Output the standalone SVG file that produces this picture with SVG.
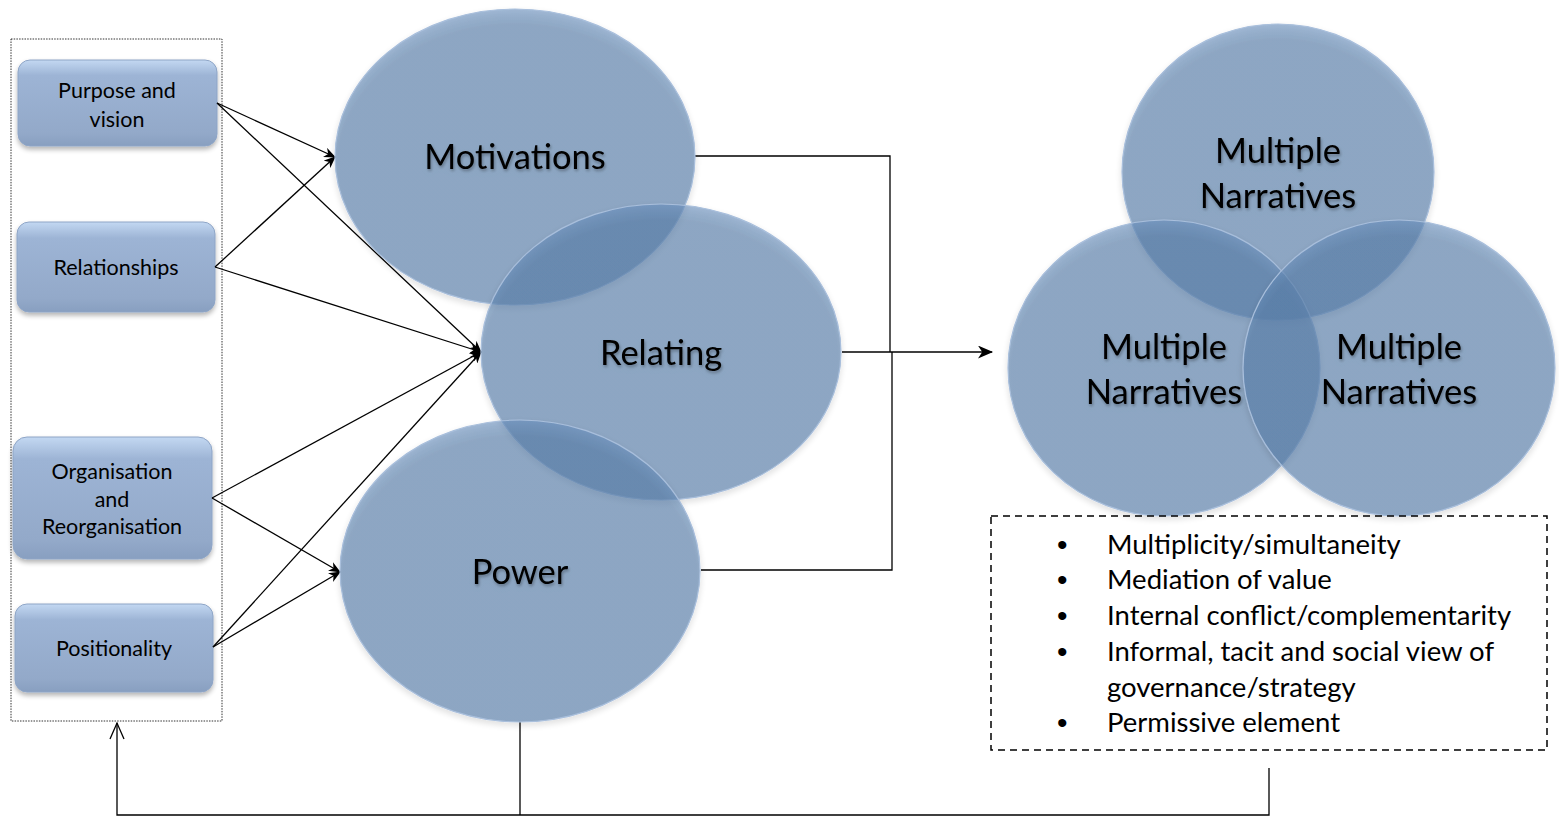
<svg xmlns="http://www.w3.org/2000/svg" width="1559" height="817" viewBox="0 0 1559 817">
  <style>
    .box { fill: url(#boxGrad); stroke: #8ea5c6; stroke-width: 1; filter: url(#boxShadow); }
    .ring { fill: url(#ringGrad); stroke: #a9bfdc; stroke-width: 1.2; }
    .lbl { font-family: Lato, "Open Sans", "Liberation Sans", sans-serif; fill: #000; text-anchor: middle; }
    .small { font-size: 21.5px; }
    .big { font-size: 34.5px; filter: url(#textGlow); }
    .bul { font-family: Lato, "Open Sans", "Liberation Sans", sans-serif; font-size: 27.5px; fill: #000; }
    .dot { font-family: "Liberation Sans", sans-serif; font-size: 30px; fill: #000; }
    .wire { fill: none; stroke: #000; stroke-width: 1.3; }
  </style>
  <defs>
    <linearGradient id="boxGrad" x1="0" y1="0" x2="0" y2="1">
      <stop offset="0" stop-color="#c3d8f2"/>
      <stop offset="0.18" stop-color="#9db4d5"/>
      <stop offset="0.85" stop-color="#93a9c9"/>
      <stop offset="1" stop-color="#889fc0"/>
    </linearGradient>
    <radialGradient id="ringGrad" cx="0.5" cy="0.55" r="0.55">
      <stop offset="0" stop-color="#5a80ab" stop-opacity="0.64"/>
      <stop offset="0.9" stop-color="#5a80ab" stop-opacity="0.64"/>
      <stop offset="1" stop-color="#6a90bd" stop-opacity="0.62"/>
    </radialGradient>
    <filter id="boxShadow" x="-10%" y="-10%" width="120%" height="130%">
      <feGaussianBlur in="SourceAlpha" stdDeviation="2.5"/>
      <feOffset dx="0" dy="3" result="b"/>
      <feComponentTransfer><feFuncA type="linear" slope="0.3"/></feComponentTransfer>
      <feMerge><feMergeNode/><feMergeNode in="SourceGraphic"/></feMerge>
    </filter>
    <filter id="ringShadow" x="-10%" y="-10%" width="120%" height="125%">
      <feGaussianBlur in="SourceAlpha" stdDeviation="3"/>
      <feOffset dx="0" dy="3"/>
      <feComponentTransfer><feFuncA type="linear" slope="0.18"/></feComponentTransfer>
      <feMerge><feMergeNode/><feMergeNode in="SourceGraphic"/></feMerge>
    </filter>
    <filter id="textGlow" x="-10%" y="-20%" width="120%" height="150%">
      <feGaussianBlur in="SourceAlpha" stdDeviation="1.5"/>
      <feOffset dx="1" dy="2"/>
      <feComponentTransfer><feFuncA type="linear" slope="0.3"/></feComponentTransfer>
      <feMerge><feMergeNode/><feMergeNode in="SourceGraphic"/></feMerge>
    </filter>
    <marker id="head" viewBox="0 0 12 10" refX="11" refY="5" markerWidth="12" markerHeight="10" markerUnits="userSpaceOnUse" orient="auto">
      <path d="M0,0 L12,5 L0,10 L3.5,5 z" fill="#000"/>
    </marker>
    <marker id="headBig" viewBox="0 0 14 12" refX="13" refY="6" markerWidth="16" markerHeight="13" markerUnits="userSpaceOnUse" orient="auto">
      <path d="M0,0 L14,6 L0,12 L4,6 z" fill="#000"/>
    </marker>
  </defs>

  <!-- dotted frame around the driver boxes -->
  <rect id="driverFrame" x="11" y="39" width="211" height="682" fill="none" stroke="#333" stroke-width="1" stroke-dasharray="1.5 1.2"/>

  <!-- driver boxes -->
  <g id="purpose">
    <rect class="box" x="18" y="60" width="199" height="86" rx="12"/>
    <text class="lbl small" x="117" y="98">Purpose and</text>
    <text class="lbl small" x="117" y="127">vision</text>
  </g>
  <g id="relationships">
    <rect class="box" x="17" y="222" width="198" height="90" rx="12"/>
    <text class="lbl small" x="116" y="275">Relationships</text>
  </g>
  <g id="organisation">
    <rect class="box" x="13" y="437" width="199" height="122" rx="14"/>
    <text class="lbl small" x="112" y="479">Organisation</text>
    <text class="lbl small" x="112" y="507">and</text>
    <text class="lbl small" x="112" y="534">Reorganisation</text>
  </g>
  <g id="positionality">
    <rect class="box" x="15" y="604" width="198" height="88" rx="12"/>
    <text class="lbl small" x="114" y="656">Positionality</text>
  </g>

  <!-- connectors -->
  <g id="connectors">
    <line class="wire" x1="217" y1="103" x2="335" y2="157" marker-end="url(#head)"/>
    <line class="wire" x1="217" y1="103" x2="481" y2="352" marker-end="url(#head)"/>
    <line class="wire" x1="215" y1="267" x2="335" y2="157" marker-end="url(#head)"/>
    <line class="wire" x1="215" y1="267" x2="481" y2="352" marker-end="url(#head)"/>
    <line class="wire" x1="212" y1="498" x2="481" y2="352" marker-end="url(#head)"/>
    <line class="wire" x1="212" y1="498" x2="340" y2="572" marker-end="url(#head)"/>
    <line class="wire" x1="213" y1="647" x2="481" y2="352" marker-end="url(#head)"/>
    <line class="wire" x1="213" y1="647" x2="340" y2="572" marker-end="url(#head)"/>
    <polyline class="wire" points="695,156 890,156 890,352"/>
    <polyline class="wire" points="701,570 892,570 892,352"/>
    <line class="wire" x1="842" y1="352" x2="992" y2="352" stroke-width="1.6" marker-end="url(#headBig)"/>
    <polyline class="wire" points="520,722 520,815"/>
    <polyline class="wire" points="1269,768 1269,815 117,815 117,723"/>
    <polyline class="wire" points="110,739 117,723 124,739"/>
  </g>

  <!-- core circles -->
  <g id="motivations" filter="url(#ringShadow)">
    <ellipse class="ring" cx="515" cy="157" rx="180" ry="148"/>
    <text class="lbl big" x="515" y="169">Motivations</text>
  </g>
  <g id="relating" filter="url(#ringShadow)">
    <ellipse class="ring" cx="661" cy="352" rx="180" ry="148"/>
    <text class="lbl big" x="661" y="365">Relating</text>
  </g>
  <g id="power" filter="url(#ringShadow)">
    <ellipse class="ring" cx="520" cy="571" rx="180" ry="151"/>
    <text class="lbl big" x="520" y="584">Power</text>
  </g>

  <!-- narrative circles -->
  <g id="narrativeTop" filter="url(#ringShadow)">
    <ellipse class="ring" cx="1278" cy="172" rx="156" ry="148"/>
    <text class="lbl big" x="1278" y="163">Multiple</text>
    <text class="lbl big" x="1278" y="208">Narratives</text>
  </g>
  <g id="narrativeLeft" filter="url(#ringShadow)">
    <ellipse class="ring" cx="1164" cy="368" rx="156" ry="148"/>
    <text class="lbl big" x="1164" y="359">Multiple</text>
    <text class="lbl big" x="1164" y="404">Narratives</text>
  </g>
  <g id="narrativeRight" filter="url(#ringShadow)">
    <ellipse class="ring" cx="1399" cy="368" rx="156" ry="148"/>
    <text class="lbl big" x="1399" y="359">Multiple</text>
    <text class="lbl big" x="1399" y="404">Narratives</text>
  </g>

  <!-- characteristics list -->
  <g id="characteristics">
    <rect x="991" y="516" width="556" height="234" fill="none" stroke="#000" stroke-width="1.5" stroke-dasharray="7 5"/>
    <g class="dot">
      <text x="1057" y="555">•</text>
      <text x="1057" y="590">•</text>
      <text x="1057" y="626">•</text>
      <text x="1057" y="662">•</text>
      <text x="1057" y="733">•</text>
    </g>
    <g class="bul">
      <text x="1107" y="554">Multiplicity/simultaneity</text>
      <text x="1107" y="589">Mediation of value</text>
      <text x="1107" y="625">Internal conflict/complementarity</text>
      <text x="1107" y="661">Informal, tacit and social view of</text>
      <text x="1107" y="697">governance/strategy</text>
      <text x="1107" y="732">Permissive element</text>
    </g>
  </g>
</svg>
